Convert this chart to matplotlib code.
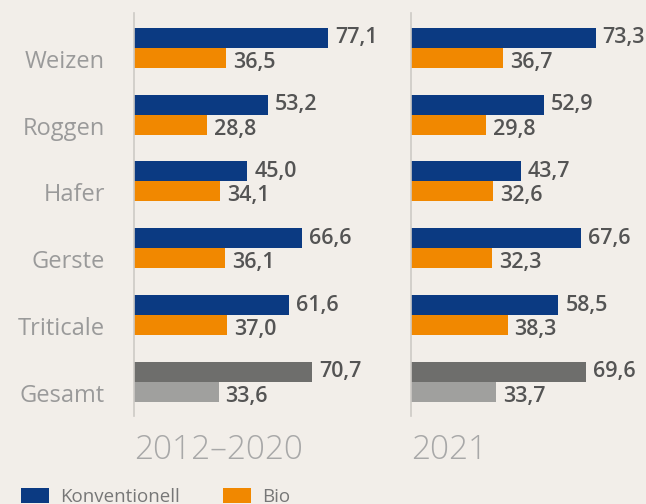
import matplotlib
matplotlib.use("Agg")
import matplotlib.pyplot as plt
import matplotlib.transforms as mtransforms
from matplotlib.patches import Patch
import numpy as np

# ---------- DATA ----------
categories = ["Weizen", "Roggen", "Hafer", "Gerste", "Triticale", "Gesamt"]
periods = ["2012–2020", "2021"]
konv_2012_2020 = [77.1, 53.2, 45.0, 66.6, 61.6, 70.7]
bio_2012_2020 = [36.5, 28.8, 34.1, 36.1, 37.0, 33.6]
konv_2021 = [73.3, 52.9, 43.7, 67.6, 58.5, 69.6]
bio_2021 = [36.7, 29.8, 32.6, 32.3, 38.3, 33.7]

# ---------- STYLE ----------
BG = "#f2eee9"
BLUE = "#0b3a82"
ORANGE = "#f18800"
DARK_GRAY = "#6e6e6c"
LIGHT_GRAY = "#a0a09e"
AXIS_GRAY = "#cdcac6"
VALUE_COLOR = "#545454"
CAT_COLOR = "#9a9a9a"

plt.rcParams["font.family"] = ["Open Sans", "DejaVu Sans"]

W, H = 646, 504
fig = plt.figure(figsize=(W / 100, H / 100), dpi=100, facecolor=BG)

PX_PER_UNIT = 2.52   # horizontal scale, px per value unit
TOP, BOTTOM = 13, 416  # axis line extent in px from top


def fmt(v):
    return f"{v:.1f}".replace(".", ",")


def draw_panel(left_px, width_px, konv, bio, period, show_labels):
    ax = fig.add_axes([left_px / W, (H - BOTTOM) / H, width_px / W, (BOTTOM - TOP) / H])
    ax.set_facecolor("none")
    y = np.arange(len(categories))
    h = 0.3
    konv_colors = [BLUE] * (len(categories) - 1) + [DARK_GRAY]
    bio_colors = [ORANGE] * (len(categories) - 1) + [LIGHT_GRAY]
    ax.barh(y - h / 2, konv, height=h, color=konv_colors, linewidth=0)
    ax.barh(y + h / 2, bio, height=h, color=bio_colors, linewidth=0)

    for yi, v in zip(y, konv):
        ax.annotate(fmt(v), (v, yi - h / 2), xytext=(5, 0), textcoords="offset points",
                    ha="left", va="center", fontsize=15.5, fontweight="semibold",
                    color=VALUE_COLOR)
    for yi, v in zip(y, bio):
        ax.annotate(fmt(v), (v, yi + h / 2), xytext=(5, -3.2), textcoords="offset points",
                    ha="left", va="center", fontsize=15.5, fontweight="semibold",
                    color=VALUE_COLOR)

    ax.set_xlim(0, width_px / PX_PER_UNIT)
    ax.set_ylim(5.51, -0.52)
    for s in ["top", "right", "bottom"]:
        ax.spines[s].set_visible(False)
    ax.spines["left"].set_color(AXIS_GRAY)
    ax.spines["left"].set_linewidth(1.2)
    ax.set_xticks([])
    ax.set_yticks(y)
    if show_labels:
        ax.set_yticklabels(categories, fontsize=17, color=CAT_COLOR, fontweight="normal")
        ax.tick_params(axis="y", length=0, pad=21)
        shift = mtransforms.ScaledTranslation(0, -11 / 100, fig.dpi_scale_trans)
        for lbl in ax.get_yticklabels():
            lbl.set_transform(lbl.get_transform() + shift)
    else:
        ax.set_yticklabels([])
        ax.tick_params(axis="y", length=0)

    ax.text(0, -0.084, period, transform=ax.transAxes, ha="left", va="center",
            fontsize=24, fontweight="light", color="#a8a8a8")
    return ax


draw_panel(134, 262, konv_2012_2020, bio_2012_2020, periods[0], True)
draw_panel(411, 235, konv_2021, bio_2021, periods[1], False)

handles = [Patch(facecolor=BLUE, edgecolor="none"), Patch(facecolor=ORANGE, edgecolor="none")]
fig.legend(handles, ["Konventionell", "Bio"], loc="center left",
           bbox_to_anchor=(21 / W, 7 / H), ncol=2, frameon=False, fontsize=13.5,
           labelcolor="#777777", handlelength=1.5, handleheight=0.9,
           handletextpad=0.6, columnspacing=2.3, borderpad=0, borderaxespad=0)

fig.savefig("out.png", dpi=100, facecolor=BG)
